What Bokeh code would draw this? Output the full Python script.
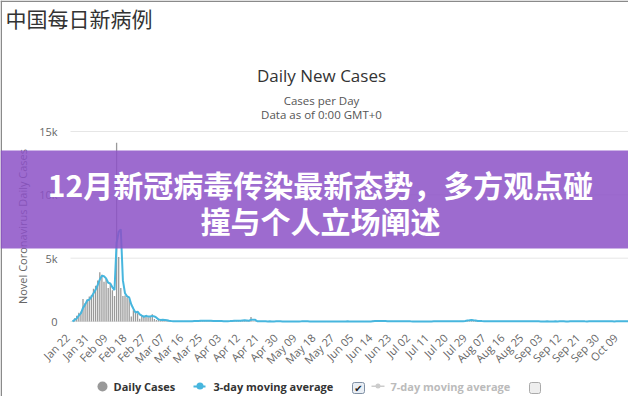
from math import pi
from bokeh.plotting import figure
from bokeh.models import Label, BoxAnnotation, Range1d
from bokeh.core.properties import value
from bokeh.embed import file_html
from bokeh.resources import INLINE

# ---- data: daily new cases (China), Jan 22 .. Oct 14 ----
jan_daily = [0, 259, 457, 688, 769, 1771, 1459, 1737, 1981, 2099]
feb_daily = [2589, 2825, 3235, 3884, 3694, 3143, 3385, 2652, 2973, 2467,
             2015, 14108, 5090, 2641, 2008, 2048, 1888, 1749, 391, 889,
             823, 648, 214, 508, 406, 433, 327, 427, 573]
mar_daily = [202, 125, 119, 139, 143, 99, 44, 40, 19, 24, 15, 8, 11, 20, 16, 21,
             13, 34, 39, 41, 46, 39, 78, 47, 67, 55, 54, 45, 31, 48, 36]
apr_daily = [35, 31, 19, 30, 39, 32, 62, 63, 42, 46, 99, 108, 89, 46, 26, 352,
             27, 16, 12, 11, 30, 10, 6, 12, 11, 3, 6, 22, 4, 12]
may_daily = [2, 1, 2, 1, 1, 2, 4, 1, 17, 14, 17, 7, 15, 6, 5, 4, 4, 6, 7, 6,
             5, 3, 2, 11, 3, 7, 4, 2, 2, 16, 4]
jun_daily = [16, 5, 6, 4, 5, 4, 7, 3, 3, 3, 11, 11, 57, 49, 40, 28, 44, 25, 32, 26,
             23, 19, 25, 19, 23, 17, 12, 21, 7, 19]
jul_daily = [3, 5, 4, 6, 8, 7, 7, 8, 5, 7, 12, 13, 7, 14, 10, 13, 10, 12, 11, 14,
             22, 16, 17, 18, 14, 46, 68, 101, 105, 127, 45]
aug_daily = [49, 43, 36, 27, 22, 37, 23, 28, 30, 24, 22, 22, 25, 19, 13, 22, 17, 22,
             14, 20, 11, 16, 12, 25, 17, 15, 11, 10, 20, 9, 9]
sep_daily = [5, 10, 11, 9, 8, 9, 10, 10, 7, 12, 10, 8, 6, 10, 14, 10, 32, 13, 14, 9,
             12, 10, 6, 14, 9, 11, 17, 15, 21, 10]
oct_daily = [19, 8, 20, 10, 11, 7, 21, 19, 13, 12, 13, 22, 21, 13]

# ---- 3-day moving average, same days ----
jan_avg = [0, 130, 239, 468, 638, 1076, 1333, 1656, 1726, 1939]
feb_avg = [2223, 2504, 2883, 3315, 3604, 3574, 3407, 3060, 3003, 2697,
           2485, 6197, 7071, 7280, 3246, 2232, 1981, 1895, 1343, 1010,
           701, 787, 562, 457, 376, 449, 389, 396, 442]
mar_avg = [401, 300, 149, 128, 134, 127, 95, 61, 34, 28, 19, 16, 11, 13, 16, 19,
           17, 23, 29, 38, 42, 42, 54, 55, 64, 56, 59, 51, 43, 41, 38]
apr_avg = [40, 34, 28, 27, 29, 34, 44, 52, 56, 50, 62, 84, 99, 81, 54, 141,
           135, 132, 18, 13, 18, 17, 15, 9, 10, 9, 7, 10, 11, 13]
may_avg = [6, 5, 2, 1, 1, 1, 2, 2, 7, 11, 16, 13, 13, 9, 9, 5, 4, 5, 6, 6,
           6, 5, 3, 5, 5, 7, 5, 4, 3, 7, 7]
jun_avg = [12, 8, 9, 5, 5, 4, 5, 5, 4, 3, 6, 8, 26, 39, 49, 39, 37, 32, 34, 28,
           27, 23, 22, 21, 22, 20, 17, 17, 13, 16]
jul_avg = [10, 9, 4, 5, 6, 7, 7, 7, 7, 7, 8, 11, 11, 11, 10, 12, 11, 12, 11, 12,
           16, 17, 18, 17, 16, 26, 43, 72, 91, 111, 92]
aug_avg = [74, 46, 43, 35, 28, 29, 27, 29, 27, 27, 25, 23, 23, 22, 19, 18, 17, 20,
           18, 19, 15, 16, 13, 18, 18, 19, 14, 12, 14, 13, 13]
sep_avg = [8, 8, 9, 10, 9, 9, 9, 10, 9, 10, 10, 10, 8, 8, 10, 11, 19, 18, 20, 12,
           12, 10, 9, 10, 10, 11, 12, 14, 18, 15]
oct_avg = [17, 12, 16, 13, 14, 9, 13, 16, 18, 15, 13, 16, 19, 19]

tick_labels = ["Jan 22", "Jan 31", "Feb 09", "Feb 18", "Feb 27", "Mar 07", "Mar 16",
               "Mar 25", "Apr 03", "Apr 12", "Apr 21", "Apr 30", "May 09", "May 18",
               "May 27", "Jun 05", "Jun 14", "Jun 23", "Jul 02", "Jul 11", "Jul 20",
               "Jul 29", "Aug 07", "Aug 16", "Aug 25", "Sep 03", "Sep 12", "Sep 21",
               "Sep 30", "Oct 09"]
y_ticks = [0, 5000, 10000, 15000]
y_tick_labels = ["0", "5k", "10k", "15k"]

daily = (jan_daily + feb_daily + mar_daily + apr_daily + may_daily + jun_daily
         + jul_daily + aug_daily + sep_daily + oct_daily)
avg3 = (jan_avg + feb_avg + mar_avg + apr_avg + may_avg + jun_avg
        + jul_avg + aug_avg + sep_avg + oct_avg)
days = list(range(len(daily)))
tick_days = [9 * i for i in range(len(tick_labels))]

FONT = "Open Sans"
CJK = "Noto Sans CJK SC"

# ---- canvas geometry (pixels) ----
W, H = 628, 396
PX_DAY = 2.1               # pixels per day
DAY0_PX = 72               # canvas x of day 0
PLOT_L, PLOT_R = 70, 628   # plot area left/right (canvas x)
PLOT_T, PLOT_B = 131, 321  # plot area top/bottom (canvas y)
YMAX = 15000
PX_VAL = (PLOT_B - PLOT_T) / YMAX

x_start = -DAY0_PX / PX_DAY
x_end = (W - DAY0_PX) / PX_DAY
y_start = -(H - PLOT_B) / PX_VAL
y_end = PLOT_B / PX_VAL
plot_l_day = (PLOT_L - DAY0_PX) / PX_DAY
plot_r_day = (PLOT_R - DAY0_PX) / PX_DAY

p = figure(width=W, height=H, output_backend="svg", toolbar_location=None,
           x_range=Range1d(x_start, x_end), y_range=Range1d(y_start, y_end),
           x_axis_type=None, y_axis_type=None,
           min_border=0, min_border_left=0, min_border_right=0,
           min_border_top=0, min_border_bottom=0)
p.outline_line_color = None
p.background_fill_color = "white"
p.border_fill_color = "white"

# gridlines
p.segment(x0=[plot_l_day] * len(y_ticks), x1=[plot_r_day] * len(y_ticks),
          y0=y_ticks, y1=y_ticks, line_color="#e6e6e6", line_width=1)

# series
p.vbar(x=days, top=daily, width=0.62, fill_color="#9a9a9a", line_color=None)
p.line(days, avg3, line_color="#47b6de", line_width=2)

# y tick labels
p.text(x=[plot_l_day] * len(y_ticks), y=y_ticks, text=y_tick_labels,
       x_offset=-13, text_align="right", text_baseline="middle",
       text_font=value(FONT), text_font_size="11px", text_color="#666666")

# x tick labels (rotated)
p.text(x=tick_days, y=[0] * len(tick_days), text=tick_labels, angle=pi / 4,
       x_offset=-5, y_offset=14, text_align="right", text_baseline="middle",
       text_font=value(FONT), text_font_size="11px", text_color="#666666")

# y axis title
p.text(x=[plot_l_day], y=[YMAX / 2], text=["Novel Coronavirus Daily Cases"],
       angle=pi / 2, x_offset=-48, text_align="center", text_baseline="middle",
       text_font=value(FONT), text_font_size="11px", text_color="#666666")


def sx(px):
    return px


def sy(py):
    return H - py


def lab(text, x, y, size, color="#333333", font=FONT, style="normal",
        align="left", baseline="middle"):
    p.add_layout(Label(x=sx(x), y=sy(y), x_units="screen", y_units="screen",
                       text=text, text_font=font, text_font_size=size,
                       text_color=color, text_font_style=style,
                       text_align=align, text_baseline=baseline))


def box(l, r, t, b, fill, alpha=1.0, line=None, radius=0):
    p.add_layout(BoxAnnotation(left=sx(l), right=sx(r), top=sy(t), bottom=sy(b),
                               left_units="screen", right_units="screen",
                               top_units="screen", bottom_units="screen",
                               fill_color=fill, fill_alpha=alpha,
                               line_color=line, line_alpha=1.0,
                               border_radius=int(radius)))


# outer frame lines (top and left edges)
box(0, W, 0, 1.5, "#8a8a8a")
box(0, 1.5, 0, H, "#8a8a8a")

# titles (page-pixel positions)
lab("中国每日新病例", 5, 17, "21px", color="#333333", font=CJK)
lab("Daily New Cases", 321, 75, "17px", color="#333333", align="center",
    baseline="alphabetic")
lab("Cases per Day", 321, 100, "11.5px", color="#555555", align="center",
    baseline="alphabetic")
lab("Data as of 0:00 GMT+0", 321, 114, "11.5px", color="#555555",
    align="center", baseline="alphabetic")

# legend
box(97, 107, 381, 391, "#999999", radius=5)
lab("Daily Cases", 113, 386, "11px", color="#333333", style="bold")
box(193, 205, 385, 387, "#47b6de")
box(196, 203, 382, 389, "#47b6de", radius=4)
lab("3-day moving average", 213, 386, "11px", color="#333333", style="bold")
box(352, 364, 382, 393, "#e9eef4", line="#7f8fa3", radius=2)
lab("✔", 358, 387.5, "10px", color="#222222", font="DejaVu Sans",
    align="center")
box(371, 384, 385, 386.5, "#cccccc")
box(375, 380, 383, 388, "#cccccc", radius=3)
lab("7-day moving average", 390, 386, "11px", color="#bbbbbb", style="bold")
box(529, 540, 382, 393, "#eeeeee", line="#aaaaaa", radius=2)

# purple banner with headline
box(0, W, 150, 248, "#8c51c7", alpha=0.85)
lab("12月新冠病毒传染最新态势，多方观点碰", 320, 183, "30px", color="white",
    font=CJK, style="bold", align="center")
lab("撞与个人立场阐述", 320, 219, "30px", color="white", font=CJK,
    style="bold", align="center")

open("out.html", "w").write(file_html(p, INLINE))
